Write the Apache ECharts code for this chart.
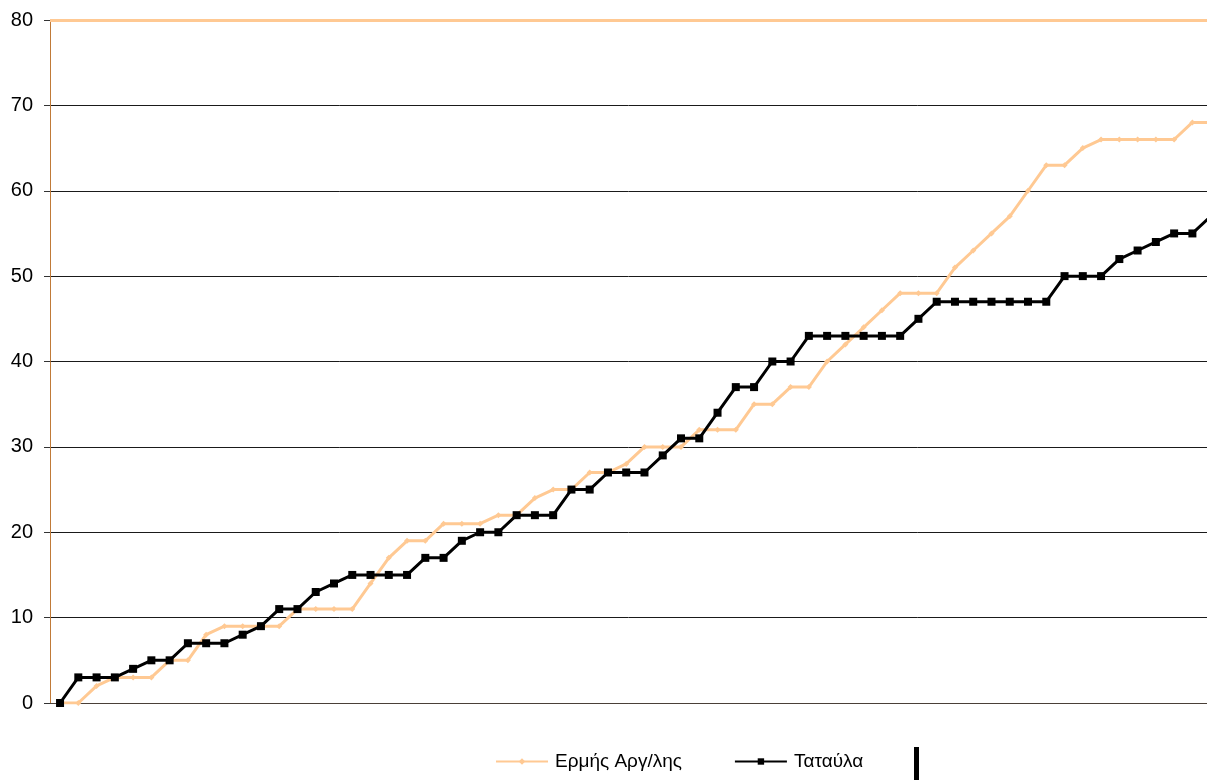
<!DOCTYPE html>
<html>
<head>
<meta charset="utf-8">
<script src="https://cdn.jsdelivr.net/npm/echarts@6/dist/echarts.min.js"></script>
<style>
html,body{margin:0;padding:0;background:#fff;}
#chart{width:1207px;height:780px;}
</style>
</head>
<body>
<div id="chart"></div>
<script>
var seriesNames = ['Ερμής Αργ/λης', 'Ταταύλα'];
var yTicks = [0, 10, 20, 30, 40, 50, 60, 70, 80];
var ermis = [0,0,2,3,3,3,5,5,8,9,9,9,9,11,11,11,11,14,17,19,19,21,21,21,22,22,24,25,25,27,27,28,30,30,30,32,32,32,35,35,37,37,40,42,44,46,48,48,48,51,53,55,57,60,63,63,65,66,66,66,66,66,68,68];
var tatavla = [0,3,3,3,4,5,5,7,7,7,8,9,11,11,13,14,15,15,15,15,17,17,19,20,20,22,22,22,25,25,27,27,27,29,31,31,34,37,37,40,40,43,43,43,43,43,43,45,47,47,47,47,47,47,47,50,50,50,52,53,54,55,55,57];
var rounds = ermis.map(function(_, i){ return i; });

function pairs(arr){ return rounds.map(function(r, i){ return [r, arr[i]]; }); }

var FONT = 'Liberation Sans, Arial, sans-serif';
var chart = echarts.init(document.getElementById('chart'));
chart.setOption({
  animation: false,
  textStyle: { fontFamily: FONT },
  grid: { left: 50, right: 0, top: 20, bottom: 77, containLabel: false },
  legend: {
    left: 490, top: 747,
    itemWidth: 52, itemHeight: 8, itemGap: 52,
    textStyle: { fontSize: 19, color: '#000', fontFamily: FONT, padding: [0, 0, 0, 2] },
    data: seriesNames
  },
  xAxis: {
    type: 'value', min: -0.55, max: 62.8,
    axisLine: { show: true, lineStyle: { color: '#4a4038', width: 1 } },
    axisTick: { show: false }, axisLabel: { show: false }, splitLine: { show: false }
  },
  yAxis: {
    type: 'value', min: yTicks[0], max: yTicks[yTicks.length-1], interval: 10,
    axisLine: { show: true, onZero: false, lineStyle: { color: '#c07a38', width: 1 } },
    axisTick: { show: true, length: 6, lineStyle: { color: '#333' } },
    axisLabel: { fontSize: 20, color: '#000', margin: 17, fontFamily: FONT },
    splitLine: { show: true, lineStyle: { color: '#1a1a1a', width: 1 } }
  },
  series: [
    {
      name: seriesNames[0], type: 'line', data: pairs(ermis),
      symbol: 'diamond', symbolSize: 6,
      itemStyle: { color: '#ffc993' },
      lineStyle: { color: '#ffc993', width: 3 },
      markLine: {
        silent: true, symbol: 'none', label: { show: false },
        lineStyle: { color: '#ffc993', width: 3, type: 'solid' },
        data: [{ yAxis: yTicks[yTicks.length-1] }]
      },
      z: 2
    },
    {
      name: seriesNames[1], type: 'line', data: pairs(tatavla),
      symbol: 'rect', symbolSize: 8,
      itemStyle: { color: '#000' },
      lineStyle: { color: '#000', width: 3 },
      z: 3
    }
  ],
  graphic: [
    { type: 'rect', shape: { x: 914, y: 747, width: 5, height: 33 }, style: { fill: '#000' } }
  ]
});
</script>
</body>
</html>
